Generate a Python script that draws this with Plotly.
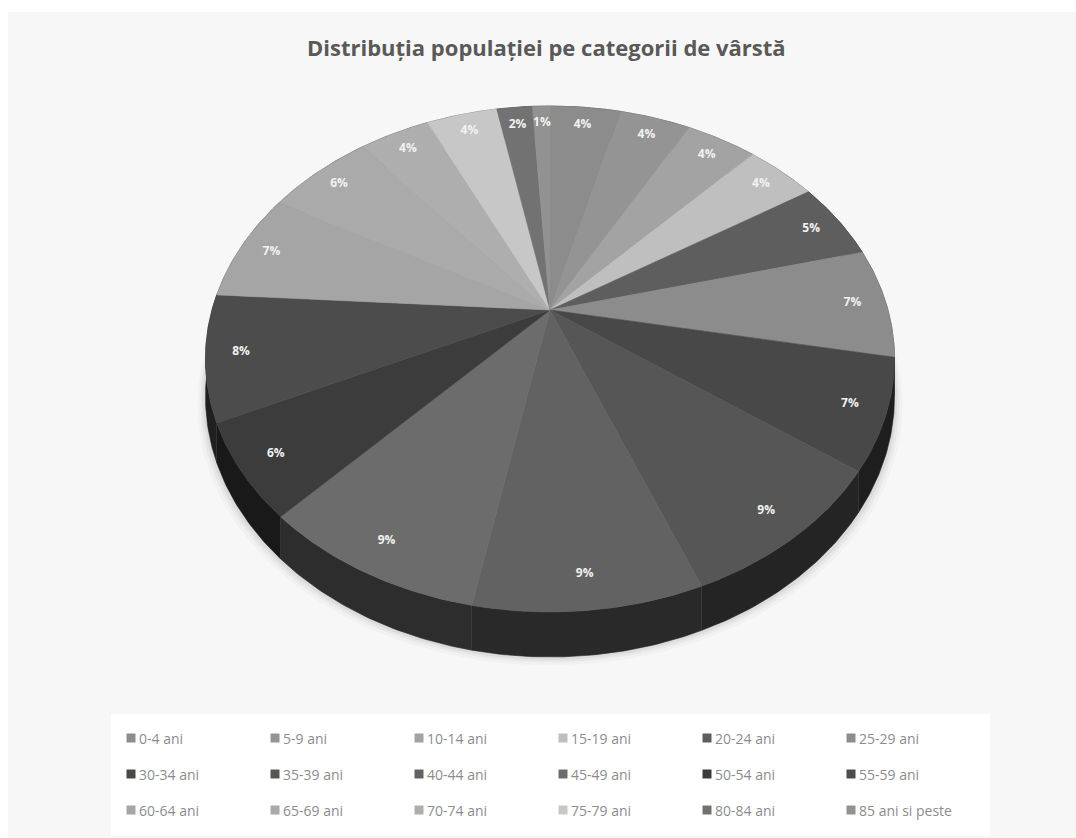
import numpy as np
import plotly.graph_objects as go

# Population share by age group (percent)
categories = ["0-4 ani", "5-9 ani", "10-14 ani", "15-19 ani", "20-24 ani", "25-29 ani",
              "30-34 ani", "35-39 ani", "40-44 ani", "45-49 ani", "50-54 ani", "55-59 ani",
              "60-64 ani", "65-69 ani", "70-74 ani", "75-79 ani", "80-84 ani", "85 ani si peste"]
values = [4, 4, 4, 4, 5, 7, 7, 9, 9, 9, 6, 8, 7, 6, 4, 4, 2, 1]
gray_levels = [140, 148, 163, 191, 94, 140, 72, 86, 98, 108, 60, 76, 165, 170, 174, 199, 114, 146]

title = "Distribuția populației pe categorii de vârstă"

W, H = 1076, 838
# tilted pie geometry (pixels): apex, radii, perspective factor, wall depth
CX, CY = 550.0, 310.0
A, B, K, T = 338.0, 243.5, 0.1936, 36.3
LABEL_R = 0.9


def project(theta, r=1.0):
    u = r * np.sin(theta)
    v = r * np.cos(theta)
    d = 1.0 + K * v
    return CX + A * u / d, CY - B * v / d


def drop(theta):
    return T / (1.0 + K * np.cos(theta))


def gray(level, f=1.0):
    g = int(max(0, min(255, round(level * f))))
    return f"rgb({g},{g},{g})"


fig = go.Figure()

total = float(sum(values))
bounds = np.concatenate([[0.0], np.cumsum(values)]) / total * 2 * np.pi

# soft shadow under the base
full = np.linspace(0, 2 * np.pi, 361)
for off, alpha in [(14, 0.025), (9, 0.035), (5, 0.05)]:
    sx, sy = project(full)
    sy = sy + drop(full) + off * 0.6
    sx = CX + (sx - CX) * (1 + off / 600)
    fig.add_trace(go.Scatter(x=sx, y=sy, fill="toself", mode="lines",
                             line=dict(width=0), fillcolor=f"rgba(0,0,0,{alpha})",
                             hoverinfo="skip", showlegend=False))

# side walls
for i, val in enumerate(values):
    th = np.linspace(bounds[i], bounds[i + 1], max(8, int(val * 6)))
    xt, yt = project(th)
    yb = yt + drop(th)
    xs = np.concatenate([xt, xt[::-1]])
    ys = np.concatenate([yt, yb[::-1]])
    c = gray(gray_levels[i], 0.42)
    fig.add_trace(go.Scatter(x=xs, y=ys, fill="toself", mode="lines",
                             line=dict(width=0.6, color=c), fillcolor=c,
                             hoverinfo="skip", showlegend=False))

# top faces
for i, val in enumerate(values):
    th = np.linspace(bounds[i], bounds[i + 1], max(8, int(val * 6)))
    xt, yt = project(th)
    xs = np.concatenate([[CX], xt, [CX]])
    ys = np.concatenate([[CY], yt, [CY]])
    c = gray(gray_levels[i])
    fig.add_trace(go.Scatter(x=xs, y=ys, fill="toself", mode="lines",
                             line=dict(width=0.6, color=c), fillcolor=c,
                             name=categories[i], hoverinfo="name", showlegend=False))

# data labels
mids = (bounds[:-1] + bounds[1:]) / 2
lx, ly = project(mids, LABEL_R)
fig.add_trace(go.Scatter(x=lx, y=ly, mode="text",
                         text=[f"<b>{v:g}%</b>" for v in values],
                         textfont=dict(family="Open Sans", size=12, color="#f2f2f2"),
                         hoverinfo="skip", showlegend=False))

# legend grid: 6 columns x 3 rows
col_x = [131, 275, 419, 563, 707, 851]
row_y = [738, 774, 810]
leg_x = [col_x[i % 6] for i in range(len(categories))]
leg_y = [row_y[i // 6] for i in range(len(categories))]
fig.add_trace(go.Scatter(x=leg_x, y=leg_y, mode="markers",
                         marker=dict(symbol="square", size=9,
                                     color=[gray(g) for g in gray_levels]),
                         hoverinfo="skip", showlegend=False))
for i, name in enumerate(categories):
    fig.add_annotation(x=leg_x[i] + 6, y=leg_y[i], text=name, showarrow=False,
                       xanchor="left", yanchor="middle",
                       font=dict(family="Open Sans", size=14, color="#8c8c8c"))

fig.update_layout(
    width=W, height=H,
    margin=dict(l=0, r=0, t=0, b=0),
    paper_bgcolor="white", plot_bgcolor="rgba(0,0,0,0)",
    xaxis=dict(range=[0, W], visible=False, fixedrange=True),
    yaxis=dict(range=[H, 0], visible=False, fixedrange=True),
    shapes=[
        dict(type="rect", xref="x", yref="y", x0=8, y0=12, x1=W, y1=H,
             fillcolor="#f7f7f7", line=dict(width=0), layer="below"),
        dict(type="rect", xref="x", yref="y", x0=111, y0=714, x1=990, y1=836,
             fillcolor="#ffffff", line=dict(width=0), layer="below"),
    ],
    annotations=list(fig.layout.annotations) + [
        dict(x=546, y=47, xref="x", yref="y", text=f"<b>{title}</b>", showarrow=False,
             xanchor="center", yanchor="middle",
             font=dict(family="Open Sans", size=22, color="#595959"))
    ],
)

fig.write_html("out.html")
